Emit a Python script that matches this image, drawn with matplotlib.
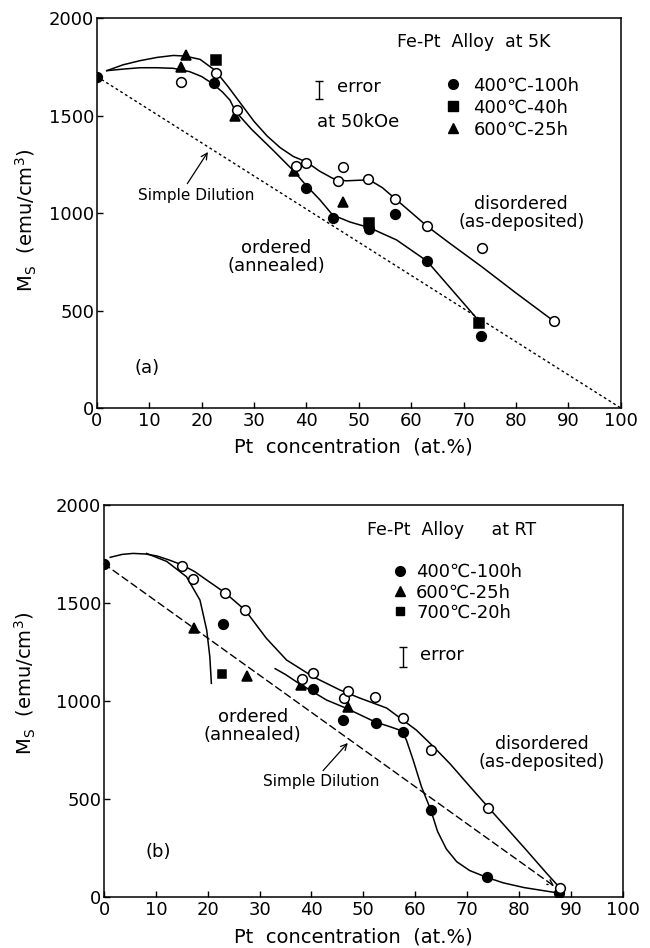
import matplotlib
matplotlib.use('Agg')
import matplotlib.pyplot as plt
from matplotlib.lines import Line2D

plt.rcParams['font.family'] = ['DejaVu Sans']
plt.rcParams['mathtext.default'] = 'regular'

# ---- (a) Fe-Pt at 5K ----
a_dep_x = [16.0, 22.7, 26.7, 38.0, 40.0, 46.0, 47.0, 51.8, 57.0, 63.0, 73.5, 87.2]
a_dep_y = [1672, 1718, 1528, 1241, 1256, 1164, 1236, 1174, 1072, 933, 820, 446]
a_100h_x = [0, 22.3, 39.9, 45.0, 52.0, 56.9, 63.0, 73.3]
a_100h_y = [1700, 1667, 1128, 974, 918, 995, 754, 369]
a_40h_x = [22.8, 52.0, 73.0]
a_40h_y = [1785, 949, 436]
a_25h_x = [16.0, 17.0, 26.3, 37.6, 47.0]
a_25h_y = [1749, 1810, 1500, 1215, 1056]

# guide curves
a_dis_cx = [1.9, 5, 8.2, 11.5, 14.6, 16.8, 19.7, 22.5, 25, 27.5, 30, 32.5, 35, 37.5, 40,
            42.5, 45, 47.5, 50, 52, 54.5, 57, 60, 63, 67.4, 73.5, 80, 87.2]
a_dis_cy = [1730, 1760, 1781, 1798, 1808, 1805, 1788, 1733, 1650, 1560, 1470, 1395, 1335, 1290, 1262,
            1215, 1178, 1165, 1168, 1170, 1130, 1072, 1003, 933, 844, 724, 590, 446]
a_ord_cx = [1.9, 5, 8.2, 11.5, 14.6, 17.7, 20, 22, 24, 25.4, 26.5, 29.5, 33.6, 37.6, 40,
            42.6, 45, 48.3, 52, 57.2, 63, 72.5]
a_ord_cy = [1730, 1738, 1745, 1745, 1742, 1725, 1700, 1665, 1620, 1579, 1520, 1430, 1323, 1215, 1140,
            1067, 990, 954, 925, 862, 754, 460]

# ---- (b) Fe-Pt at RT ----
b_dep_x = [15.0, 17.2, 23.3, 27.2, 38.2, 40.3, 46.2, 47.0, 52.2, 57.6, 63.0, 74.0, 87.9]
b_dep_y = [1689, 1622, 1551, 1464, 1112, 1143, 1015, 1051, 1020, 913, 750, 454, 46]
b_100h_x = [0, 22.9, 40.3, 46.0, 52.4, 57.6, 63.0, 73.8, 87.7]
b_100h_y = [1699, 1393, 1061, 903, 888, 842, 444, 102, 20]
b_25h_x = [17.3, 27.5, 38.0, 47.0]
b_25h_y = [1372, 1128, 1082, 969]
b_20h_x = [22.7]
b_20h_y = [1138]

b_dis_cx = [1.2, 3.5, 5.6, 8, 10.2, 12.5, 15, 17.5, 19.8, 23.3, 27.2, 31.3, 35.2, 40.3, 45.5,
            49.3, 54.5, 57.6, 60.2, 63.4, 66.7, 70, 74, 81.4, 85.3, 87.6]
b_dis_cy = [1733, 1748, 1753, 1750, 1740, 1720, 1695, 1660, 1617, 1553, 1464, 1320, 1209, 1124, 1056,
            1015, 964, 903, 852, 770, 680, 580, 460, 240, 122, 55]
b_ord1_cx = [8.2, 12.1, 15.9, 18.5, 19.8, 20.4, 20.7]
b_ord1_cy = [1753, 1712, 1634, 1515, 1362, 1226, 1090]
b_ord2_cx = [33.0, 35, 37.1, 39.7, 42.9, 46.8, 52.2, 55, 57.4, 58.3, 59.6, 61.2, 63, 64.3, 66.0,
             68.0, 70.5, 73.8, 77, 81, 87.2]
b_ord2_cy = [1165, 1135, 1098, 1056, 1005, 962, 894, 870, 848, 801, 699, 563, 444, 335, 245,
             180, 135, 100, 72, 48, 22]

xticks = [0, 10, 20, 30, 40, 50, 60, 70, 80, 90, 100]
yticks = [0, 500, 1000, 1500, 2000]

fig = plt.figure(figsize=(6.5, 9.48), dpi=100)
ax1 = fig.add_axes([0.149, 0.5696, 0.806, 0.4114])
ax2 = fig.add_axes([0.160, 0.0538, 0.798, 0.4135])

ms = 7
lw = 1.1


def style_axes(ax):
    ax.set_xlim(0, 100)
    ax.set_ylim(0, 2000)
    ax.set_xticks(xticks)
    ax.set_yticks(yticks)
    ax.tick_params(direction='in', length=4, width=1, labelsize=13)
    ax.tick_params(axis='y', pad=2)
    ax.tick_params(axis='x', pad=3)
    for s in ax.spines.values():
        s.set_linewidth(1.1)
    ax.set_xlabel('Pt  concentration  (at.%)', fontsize=14, va='center')
    ax.set_ylabel('M$_S$  (emu/cm$^3$)', fontsize=14, va='center')


def markers(ax, x, y, m, size=ms, fill='k'):
    ax.plot(x, y, ls='none', marker=m, ms=size, mfc=fill, mec='k', mew=1.1, zorder=4)


# ---------- (a) ----------
ax = ax1
style_axes(ax)
ax.plot([0, 100], [1700, 0], color='k', lw=1, ls=(0, (2, 2)))
ax.plot(a_dis_cx, a_dis_cy, color='k', lw=lw)
ax.plot(a_ord_cx, a_ord_cy, color='k', lw=lw)
markers(ax, a_100h_x, a_100h_y, 'o')
markers(ax, a_40h_x, a_40h_y, 's', size=6.5)
markers(ax, a_25h_x, a_25h_y, '^')
markers(ax, a_dep_x, a_dep_y, 'o', fill='white')
ax.errorbar([42.4], [1631], yerr=[45], fmt='none', ecolor='k', elinewidth=1, capsize=3, capthick=1)
ax.text(45.8, 1646, 'error', fontsize=13, va='center', ha='left')
ax.text(42.0, 1467, 'at 50kOe', fontsize=13, va='center', ha='left')
ax.text(72, 1877, 'Fe-Pt  Alloy  at 5K', fontsize=12.5, ha='center', va='center')
ax.text(81, 1002, 'disordered\n(as-deposited)', fontsize=12.5, ha='center', va='center', linespacing=1.0)
ax.text(34.3, 772, 'ordered\n(annealed)', fontsize=13, ha='center', va='center', linespacing=1.0)
ax.text(9.5, 205, '(a)', fontsize=13, ha='center', va='center')
ax.annotate('Simple Dilution', xy=(21.2, 1313), xytext=(19, 1092), fontsize=11,
            ha='center', va='center',
            arrowprops=dict(arrowstyle='->', color='k', lw=0.9, relpos=(0.4, 1.0), shrinkA=1, shrinkB=0))
handles = [Line2D([], [], ls='none', marker='o', ms=ms, color='k'),
           Line2D([], [], ls='none', marker='s', ms=6.5, color='k'),
           Line2D([], [], ls='none', marker='^', ms=ms, color='k')]
ax.legend(handles, ['400℃-100h', '400℃-40h', '600℃-25h'], loc='upper left',
          bbox_to_anchor=(0.662, 0.85), frameon=False, fontsize=13, handlelength=1.0,
          handletextpad=0.65, labelspacing=0.22, borderpad=0, borderaxespad=0)
ax.xaxis.set_label_coords(0.49, -0.1)
ax.yaxis.set_label_coords(-0.134, 0.48)

# ---------- (b) ----------
ax = ax2
style_axes(ax)
ax.annotate('', xy=(86.8, 55), xytext=(0, 1700),
            arrowprops=dict(arrowstyle='->', color='k', lw=1, ls=(0, (5, 3)), shrinkA=0, shrinkB=0))
ax.plot(b_dis_cx, b_dis_cy, color='k', lw=lw)
ax.plot(b_ord1_cx, b_ord1_cy, color='k', lw=lw)
ax.plot(b_ord2_cx, b_ord2_cy, color='k', lw=lw)
markers(ax, b_100h_x, b_100h_y, 'o')
markers(ax, b_25h_x, b_25h_y, '^')
markers(ax, b_20h_x, b_20h_y, 's', size=6)
markers(ax, b_dep_x, b_dep_y, 'o', fill='white')
ax.errorbar([57.6], [1224], yerr=[50], fmt='none', ecolor='k', elinewidth=1, capsize=3, capthick=1)
ax.text(61, 1234, 'error', fontsize=13, va='center', ha='left')
ax.text(67, 1872, 'Fe-Pt  Alloy     at RT', fontsize=12.5, ha='center', va='center')
ax.text(84.4, 735, 'disordered\n(as-deposited)', fontsize=12.5, ha='center', va='center', linespacing=1.0)
ax.text(28.7, 870, 'ordered\n(annealed)', fontsize=13, ha='center', va='center', linespacing=1.0)
ax.text(10.4, 230, '(b)', fontsize=13, ha='center', va='center')
ax.annotate('Simple Dilution', xy=(47, 786), xytext=(41.8, 587), fontsize=11,
            ha='center', va='center',
            arrowprops=dict(arrowstyle='->', color='k', lw=0.9, relpos=(0.49, 1.0), shrinkA=1, shrinkB=0))
handles = [Line2D([], [], ls='none', marker='o', ms=ms, color='k'),
           Line2D([], [], ls='none', marker='^', ms=ms, color='k'),
           Line2D([], [], ls='none', marker='s', ms=6, color='k')]
ax.legend(handles, ['400℃-100h', '600℃-25h', '700℃-20h'], loc='upper left',
          bbox_to_anchor=(0.553, 0.852), frameon=False, fontsize=13, handlelength=1.0,
          handletextpad=0.4, labelspacing=0.13, borderpad=0, borderaxespad=0)
ax.xaxis.set_label_coords(0.48, -0.102)
ax.yaxis.set_label_coords(-0.152, 0.546)

fig.savefig('out.png', dpi=100)
